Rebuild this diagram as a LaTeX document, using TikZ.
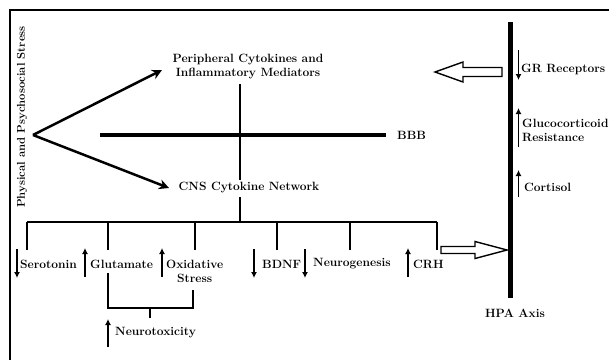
\documentclass[tikz,border=0pt]{standalone}
\usetikzlibrary{arrows.meta}
\begin{document}
\begin{tikzpicture}[x=1pt, y=-1pt, font=\fontsize{12}{14}\selectfont\bfseries,
	every node/.style={inner sep=1pt},
	lbl/.style={anchor=west},
	tick/.style={line width=1.5pt, -{Latex[length=6pt,width=6pt]}},
	big/.style={line width=2.5pt, -{Stealth[length=10pt,width=10pt]}},
	wire/.style={line width=1.6pt},
	hollow/.style={line width=1.4pt, fill=white, line join=miter}]
	\useasboundingbox (0,0) rectangle (609,360);

	% frame
	\draw[line width=2.2pt] (10,360) -- (10,10) -- (609,10);

	% stress and the two pathways
	\node[rotate=90, font=\fontsize{11.3}{13}\selectfont\bfseries] (stress) at (22,117) {Physical and Psychosocial Stress};
	\coordinate (apex) at (33,135);
	\node[align=center] (periph) at (248,67) {Peripheral Cytokines and\\Inflammatory Mediators};
	\node (cns) at (249,188) {CNS Cytokine Network};
	\draw[big] (apex) -- (162,70);
	\draw[big] (apex) -- (169,188);

	% blood brain barrier
	\node[lbl] (bbb) at (396,135) {BBB};
	\draw[line width=4pt] (100,135) -- ([xshift=-10pt]bbb.west);

	% stem and bus
	\draw[line width=1.2pt] (240,84) -- (240,180);
	\draw[wire] (240,197) -- (240,222);
	\draw[wire] (27,222) -- (437,222);
	\foreach \x in {27, 108, 195, 277, 350, 437} {
		\draw[wire] (\x,222) -- (\x,250);
	}

	% CNS effects
	\node[lbl] (sero) at (19,264) {Serotonin};
	\node[lbl] (glut) at (89,264) {Glutamate};
	\node[lbl, align=center] (oxid) at (165,271) {Oxidative\\Stress};
	\node[lbl] (bdnf) at (261,264) {BDNF};
	\node[lbl] (neuro) at (312,264) {Neurogenesis};
	\node[lbl] (crh) at (412,264) {CRH};
	\node[lbl] (ntox) at (114,333) {Neurotoxicity};

	% x/from/to
	\foreach \x/\a/\b in {17/249/278, 85/277/248, 162/277/248, 254/249/278, 305/249/278, 408/277/248, 108/347/319} {
		\draw[tick] (\x,\a) -- (\x,\b);
	}

	% neurotoxicity bracket
	\draw[wire] (108,273) -- (108,308) -- (193,308) -- (193,290);
	\draw[wire] (150,308) -- (150,318);

	% HPA axis
	\draw[line width=5pt] (510,22) -- (510,298);
	\node (hpa) at (515,313) {HPA Axis};
	\node[lbl] (gr) at (520,69) {GR Receptors};
	\node[lbl, align=left] (gluco) at (521,130) {Glucocorticoid\\Resistance};
	\node[lbl] (cort) at (523,187) {Cortisol};
	\foreach \a/\b in {50/80, 147/108, 197/170} {
		\draw[tick] (518.5,\a) -- (518.5,\b);
	}

	% hollow arrows
	\coordinate (grtip) at (435,72);
	\draw[hollow] (grtip) -- ++(28,-10) -- ++(0,5.5) -- ++(39,0) -- ++(0,9) -- ++(-39,0) -- ++(0,5.5) -- cycle;
	\coordinate (crhout) at (441,250);
	\draw[hollow] (crhout) ++(0,-3.5) -- ++(34,0) -- ++(0,-5) -- (507,250) -- (475,258.5) -- ++(0,-5) -- ++(-34,0) -- cycle;
\end{tikzpicture}
\end{document}
